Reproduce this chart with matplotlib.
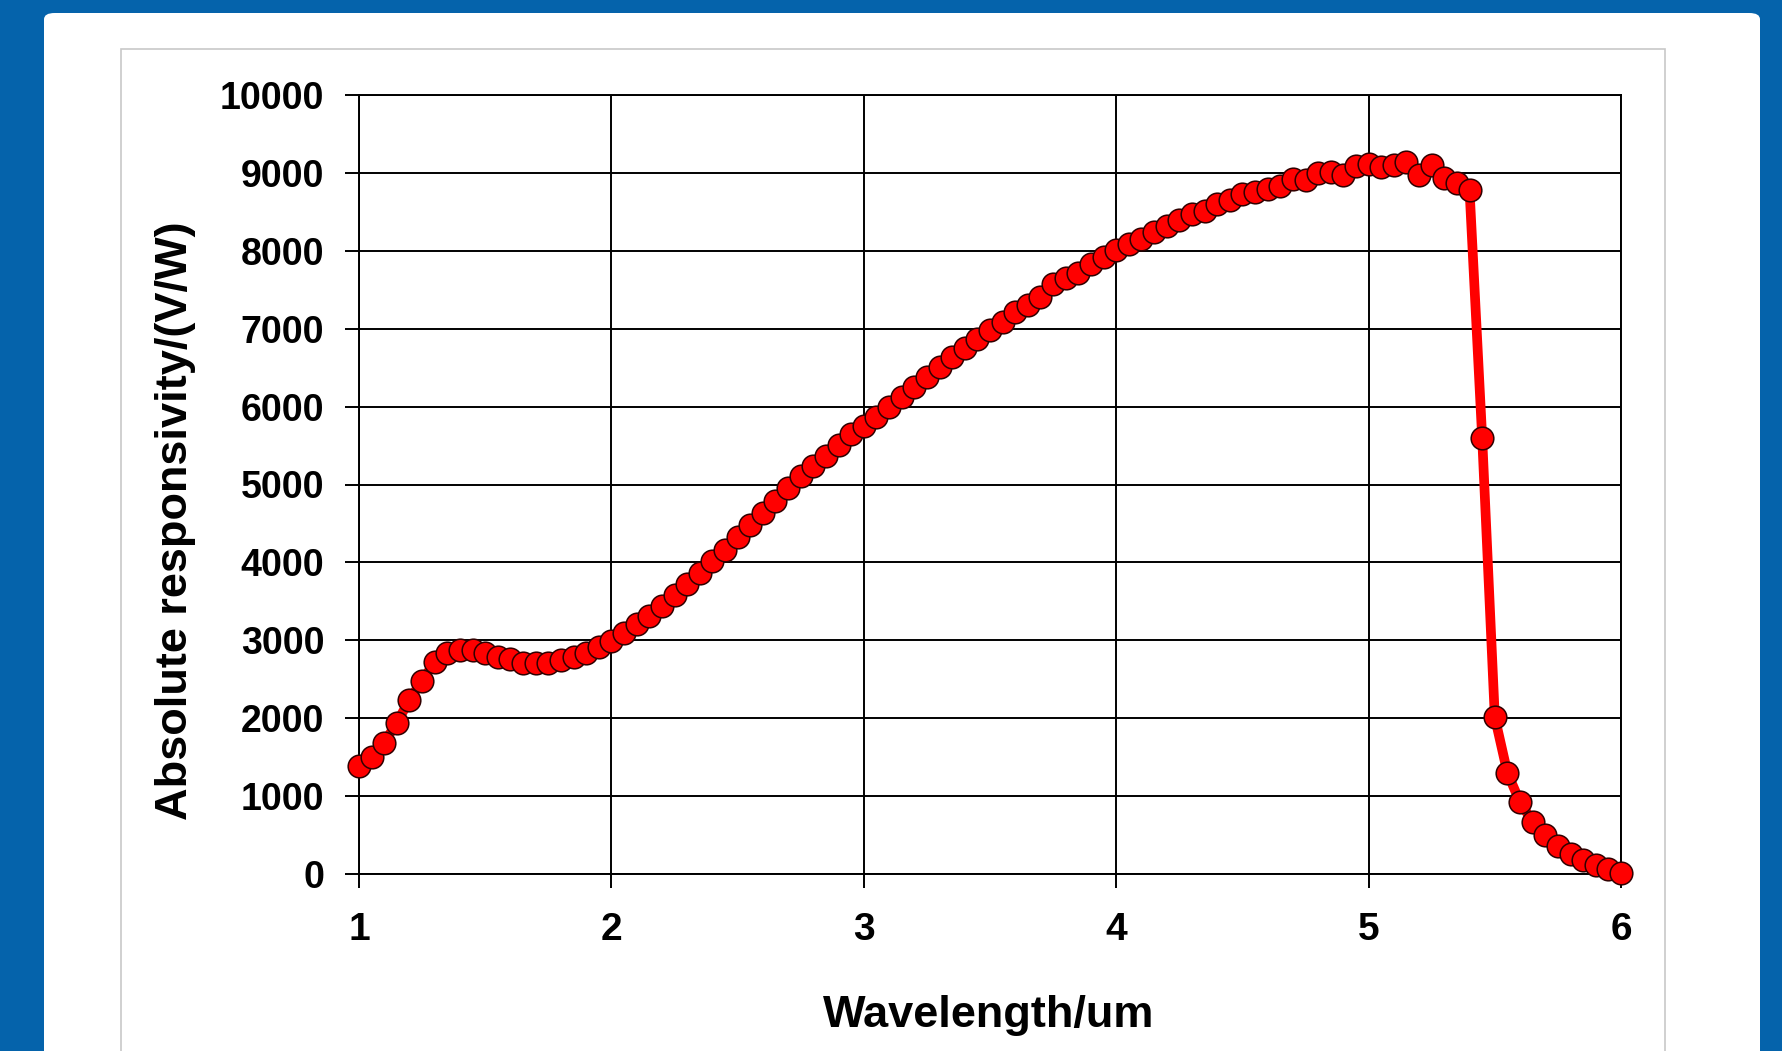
import numpy as np
import matplotlib
matplotlib.use('Agg')
import matplotlib.pyplot as plt
from matplotlib.patches import Rectangle, FancyBboxPatch

plt.rcParams['font.family'] = ['Liberation Sans', 'DejaVu Sans']
plt.rcParams['font.weight'] = 'bold'

# wavelength grid, 0.05 um steps from 1 to 6
wavelength = np.linspace(1.0, 6.0, 101)

# absolute responsivity (V/W)
responsivity = [
    1390, 1506, 1686, 1943, 2234, 2482, 2717, 2833, 2875, 2875,
    2833, 2782, 2756, 2713, 2705, 2713, 2747, 2790, 2841, 2910,
    2995, 3090, 3205, 3318, 3440, 3582, 3723, 3868, 4022, 4159,
    4322, 4480, 4638, 4792, 4951, 5109, 5237, 5366, 5507, 5650,
    5755, 5870, 5999, 6127, 6255, 6384, 6512, 6632, 6748, 6864,
    6983, 7090, 7218, 7304, 7411, 7570, 7650, 7717, 7826, 7916,
    8005, 8090, 8155, 8240, 8312, 8398, 8466, 8510, 8604, 8655,
    8723, 8753, 8795, 8826, 8918, 8909, 8994, 9016, 8973, 9089,
    9110, 9080, 9101, 9136, 8973, 9101, 8939, 8866, 8775, 5600,
    2015, 1298, 922, 671, 500, 362, 252, 178, 110, 62,
    17,
]

x_ticks = [1, 2, 3, 4, 5, 6]
y_ticks = list(range(0, 10001, 1000))

W, H = 1782, 1051
fig = plt.figure(figsize=(W / 100, H / 100), dpi=100)
fig.patch.set_facecolor('#0563ab')

# white panel and light gray chart border (pixel coords -> figure fractions)
panel = FancyBboxPatch((44 / W, -0.05), (1760 - 44) / W, (H - 13) / H + 0.05,
                       boxstyle='round,pad=0,rounding_size=0.006',
                       transform=fig.transFigure, facecolor='white',
                       edgecolor='none', zorder=-3)
fig.patches.append(panel)
border = Rectangle((121 / W, -0.05), (1665 - 121) / W, (H - 49) / H + 0.05,
                   transform=fig.transFigure, facecolor='white',
                   edgecolor='#c8c8c8', linewidth=1.2, zorder=-2)
fig.patches.append(border)

ax = fig.add_axes([359 / W, (H - 874) / H, (1621 - 359) / W, (874 - 95) / H])
ax.set_zorder(1)
ax.set_facecolor('white')

ax.plot(wavelength, responsivity, color='#ff0000', linewidth=7, zorder=3,
        marker='o', markersize=16.3, markerfacecolor='#ff0000',
        markeredgecolor='#300000', markeredgewidth=1.1, clip_on=False)

ax.set_xlim(1, 6)
ax.set_ylim(0, 10000)
ax.set_xticks(x_ticks)
ax.set_yticks(y_ticks)
ax.grid(True, color='black', linewidth=1.4, zorder=1)
ax.set_axisbelow(True)
for s in ax.spines.values():
    s.set_color('black')
    s.set_linewidth(1.4)

ax.tick_params(axis='both', direction='out', length=10, width=1.4, color='black')
ax.tick_params(axis='y', labelsize=27, pad=15)
ax.tick_params(axis='x', labelsize=28, pad=17)
for lab in ax.get_xticklabels() + ax.get_yticklabels():
    lab.set_fontweight('bold')

fig.text(176 / W, 1 - 521 / H, 'Absolute responsivity/(V/W)', rotation=90,
         ha='center', va='center', fontsize=32.5, fontweight='bold')
fig.text(989 / W, 1 - 1015 / H, 'Wavelength/um',
         ha='center', va='center', fontsize=32.5, fontweight='bold')

fig.savefig('out.png', dpi=100, facecolor=fig.get_facecolor())
